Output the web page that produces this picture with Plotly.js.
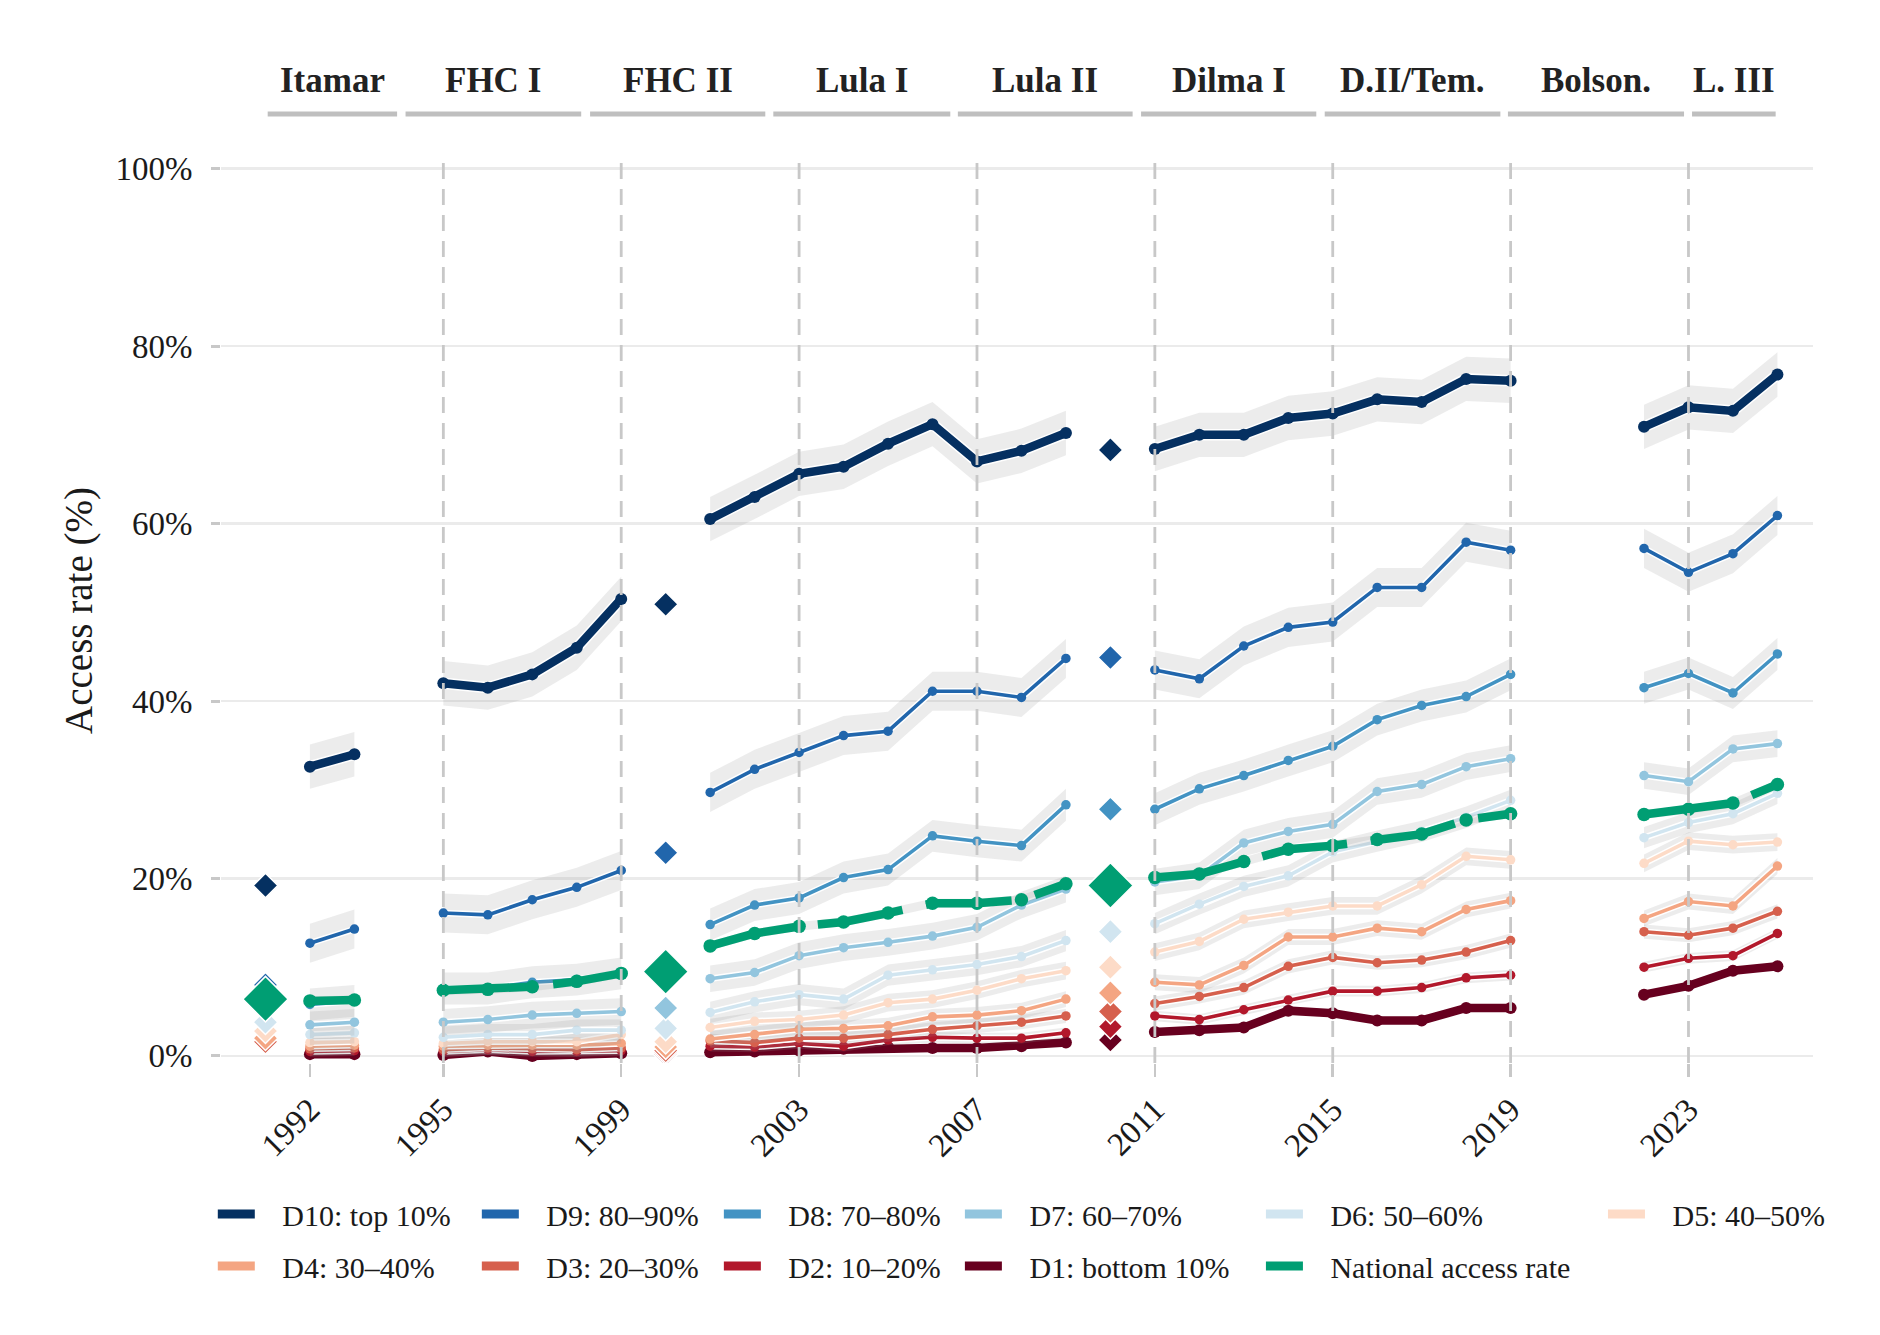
<!DOCTYPE html>
<html>
<head>
<meta charset="utf-8">
<script src="https://cdn.plot.ly/plotly-3.0.1.min.js"></script>
<style>
  html, body { margin: 0; padding: 0; background: #fff; }
  #plot { width: 1880px; height: 1335px; }
</style>
</head>
<body>
<div id="plot"></div>
<script>
// survey years (gaps = census years / no survey)
var years = [1992, 1993, 1995, 1996, 1997, 1998, 1999,
             2001, 2002, 2003, 2004, 2005, 2006, 2007, 2008, 2009,
             2011, 2012, 2013, 2014, 2015, 2016, 2017, 2018, 2019,
             2022, 2023, 2024, 2025];

var d1  = [0.2, 0.2, 0.1, 0.5, 0.0, 0.2, 0.3, 0.4, 0.5, 0.6, 0.8, 1.0, 0.9, 0.9, 1.1, 1.5, 2.7, 2.9, 3.2, 5.1, 4.8, 4.0, 4.0, 5.4, 5.4, 6.9, 7.9, 9.6, 10.1];
var d2  = [0.5, 0.6, 0.5, 0.7, 0.5, 0.5, 0.6, 1.1, 1.0, 1.4, 1.1, 1.8, 2.1, 2.0, 2.0, 2.6, 4.5, 4.1, 5.2, 6.3, 7.3, 7.3, 7.7, 8.8, 9.1, 10.0, 11.0, 11.3, 13.8];
var d3  = [0.8, 0.9, 0.7, 0.9, 0.8, 0.7, 0.9, 1.7, 1.5, 2.0, 2.0, 2.4, 3.0, 3.4, 3.8, 4.5, 5.9, 6.7, 7.7, 10.1, 11.1, 10.5, 10.8, 11.7, 13.0, 14.0, 13.6, 14.4, 16.3];
var d4  = [1.1, 1.2, 1.1, 1.2, 1.2, 1.2, 1.4, 1.9, 2.4, 3.0, 3.1, 3.4, 4.4, 4.6, 5.1, 6.4, 8.3, 8.0, 10.2, 13.4, 13.4, 14.4, 14.0, 16.5, 17.5, 15.5, 17.4, 16.9, 21.4];
var d5  = [1.5, 1.6, 1.4, 1.6, 1.6, 1.6, 2.4, 3.2, 3.9, 4.1, 4.6, 6.0, 6.4, 7.4, 8.7, 9.6, 11.7, 12.9, 15.4, 16.2, 16.9, 16.9, 19.3, 22.5, 22.1, 21.7, 24.2, 23.8, 24.1];
var d6  = [2.4, 2.6, 2.1, 2.4, 2.4, 2.9, 2.9, 4.9, 6.1, 6.9, 6.4, 9.1, 9.7, 10.3, 11.2, 13.0, 14.9, 17.1, 19.1, 20.3, 23.0, 24.2, 25.3, 26.9, 28.8, 24.6, 26.3, 27.3, 29.6];
var d7  = [3.5, 3.8, 3.8, 4.1, 4.6, 4.8, 5.0, 8.7, 9.4, 11.3, 12.2, 12.8, 13.5, 14.5, 17.0, 18.8, 19.6, 20.3, 24.0, 25.3, 26.1, 29.8, 30.6, 32.6, 33.5, 31.6, 30.9, 34.6, 35.2];
var d8  = [5.8, 6.2, 7.6, 7.6, 8.3, 8.6, 9.3, 14.8, 17.0, 17.8, 20.1, 21.0, 24.8, 24.2, 23.7, 28.3, 27.8, 30.1, 31.6, 33.3, 34.9, 37.9, 39.5, 40.5, 43.0, 41.5, 43.1, 40.9, 45.3];
var d9  = [12.7, 14.3, 16.1, 15.9, 17.6, 19.0, 20.9, 29.7, 32.3, 34.2, 36.1, 36.6, 41.1, 41.1, 40.4, 44.8, 43.5, 42.5, 46.2, 48.3, 48.9, 52.8, 52.8, 57.9, 57.0, 57.2, 54.5, 56.6, 60.9];
var d10 = [32.6, 34.0, 42.0, 41.5, 43.0, 46.0, 51.5, 60.5, 63.0, 65.6, 66.4, 69.0, 71.2, 67.0, 68.2, 70.2, 68.4, 70.0, 70.0, 71.9, 72.4, 74.0, 73.7, 76.3, 76.1, 70.9, 73.1, 72.7, 76.8];
var national = [6.2, 6.3, 7.4, 7.5, 7.8, 8.4, 9.3, 12.4, 13.8, 14.6, 15.1, 16.1, 17.2, 17.2, 17.6, 19.4, 20.1, 20.5, 21.9, 23.3, 23.7, 24.4, 25.0, 26.6, 27.3, 27.2, 27.8, 28.5, 30.6];

// census years
var censusYears = [1991, 2000, 2010];
var censusD1  = [1.6, 0.2, 1.8];
var censusD2  = [1.6, 0.4, 3.3];
var censusD3  = [1.6, 0.6, 5.0];
var censusD4  = [2.0, 1.0, 7.1];
var censusD5  = [2.8, 1.6, 10.0];
var censusD6  = [3.8, 3.1, 14.0];
var censusD7  = [5.5, 5.4, 19.0];
var censusD8  = [6.5, 9.0, 27.8];
var censusD9  = [8.0, 22.9, 44.9];
var censusD10 = [19.2, 50.9, 68.3];
var censusNational = [6.4, 9.5, 19.2];

// half-width of the confidence band, percentage points
var ciHalf = [0.5, 0.6, 0.8, 0.9, 1.0, 1.2, 1.5, 1.8, 2.2, 2.5];
var ciHalfNational = 0.5;

var names = ["D1: bottom 10%", "D2: 10\u201320%", "D3: 20\u201330%", "D4: 30\u201340%", "D5: 40\u201350%",
             "D6: 50\u201360%", "D7: 60\u201370%", "D8: 70\u201380%", "D9: 80\u201390%", "D10: top 10%"];
var nationalName = "National access rate";

var terms = ["Itamar", "FHC I", "FHC II", "Lula I", "Lula II", "Dilma I", "D.II/Tem.", "Bolson.", "L. III"];
var termFrom = [1991.05, 1994.15, 1998.3, 2002.42, 2006.57, 2010.69, 2014.82, 2018.94, 2023.08];
var termTo   = [1993.96, 1998.1, 2002.24, 2006.4, 2010.5, 2014.63, 2018.77, 2022.9, 2024.96];
var termLines = [1995, 1999, 2003, 2007, 2011, 2015, 2019, 2023];
var tickYears = [1992, 1995, 1999, 2003, 2007, 2011, 2015, 2019, 2023];
var pctTicks = [0, 20, 40, 60, 80, 100];

var colors = ["#67001f", "#b2182b", "#d6604d", "#f4a582", "#fddbc7",
              "#d1e5f0", "#92c5de", "#4393c3", "#2166ac", "#053061"];
var nationalColor = "#009e73";

var deciles = [d1, d2, d3, d4, d5, d6, d7, d8, d9, d10];
var census = [censusD1, censusD2, censusD3, censusD4, censusD5, censusD6, censusD7, censusD8, censusD9, censusD10];

function segments(xs, ys) {
    var out = [], cur = null;
    xs.forEach(function (x, i) {
        if (cur === null || x - xs[i - 1] > 1) {
            cur = {x: [], y: []};
            out.push(cur);
        }
        cur.x.push(x);
        cur.y.push(ys[i]);
    });
    return out;
}

function withBreaks(xs, ys) {
    var x = [], y = [];
    segments(xs, ys).forEach(function (s, k) {
        if (k > 0) { x.push(null); y.push(null); }
        x = x.concat(s.x);
        y = y.concat(s.y);
    });
    return {x: x, y: y};
}

function band(xs, ys, half) {
    var x = [], y = [];
    segments(xs, ys).forEach(function (s, k) {
        if (k > 0) { x.push(null); y.push(null); }
        x = x.concat(s.x, s.x.slice().reverse());
        y = y.concat(s.y.map(v => v + half), s.y.slice().reverse().map(v => v - half));
    });
    return {x: x, y: y};
}

var data = [];

function addSeries(vals, half, color, lw, ms, dash, halo) {
    var b = band(years, vals, half);
    data.push({x: b.x, y: b.y, type: "scatter", mode: "lines", fill: "toself",
               fillcolor: "rgba(150,150,150,0.18)", line: {width: 0},
               hoverinfo: "skip", showlegend: false});
    var l = withBreaks(years, vals);
    if (halo) {
        data.push({x: l.x, y: l.y, type: "scatter", mode: "lines",
                   line: {color: "#ffffff", width: lw + 3},
                   hoverinfo: "skip", showlegend: false});
    }
    data.push({x: l.x, y: l.y, type: "scatter", mode: "lines+markers",
               line: {color: color, width: lw, dash: dash},
               marker: {color: color, size: ms},
               showlegend: false});
}

deciles.forEach(function (vals, i) {
    var thick = (i === 0 || i === 9);
    addSeries(vals, ciHalf[i], colors[i], thick ? 8.5 : 3.6, thick ? 12 : 9.5, "solid", true);
});
addSeries(national, ciHalfNational, nationalColor, 8.5, 13.5, "86px,24px", false);

// census diamonds
census.forEach(function (vals, i) {
    data.push({x: censusYears, y: vals, type: "scatter", mode: "markers",
               marker: {symbol: "diamond", size: 19, color: colors[i],
                        line: {color: "#ffffff", width: 1.5}},
               showlegend: false});
});
data.push({x: censusYears, y: censusNational, type: "scatter", mode: "markers",
           marker: {symbol: "diamond", size: 35, color: nationalColor,
                    line: {color: "#ffffff", width: 1.5}},
           showlegend: false});

// legend grid: row 1 D10..D5, row 2 D4..D1 + national
var legendOrder = [9, 8, 7, 6, 5, 4, 3, 2, 1, 0, -1];
var colLeft = [218, 482, 724, 965, 1266, 1608];
var rowY = [1214, 1266];
var plotL = 221.2, plotW = 1591.8, plotB = 1063, plotH = 905;
var pad = "\u00a0\u00a0\u00a0";

var layout = {
    width: 1880, height: 1335,
    margin: {l: 221, r: 67, t: 158, b: 272},
    paper_bgcolor: "#ffffff", plot_bgcolor: "#ffffff",
    font: {family: "Liberation Serif, Times New Roman, serif", color: "#1a1a1a", size: 30},
    xaxis: {range: [1990, 2025.8], tickvals: tickYears, ticktext: tickYears.map(String),
            tickangle: -45, ticks: "outside", ticklen: 13, tickwidth: 2.5, tickcolor: "#c8c8c8",
            showgrid: false, zeroline: false, showline: false, automargin: false,
            tickfont: {size: 33, color: "#1a1a1a"}},
    yaxis: {range: [-0.8, 101.2], tickvals: pctTicks, ticktext: pctTicks.map(v => v + "%"),
            ticks: "outside", ticklen: 9, tickwidth: 3, tickcolor: "#c8c8c8", ticklabelstandoff: 12,
            showgrid: true, gridcolor: "#ebebeb", gridwidth: 2.5,
            zeroline: false, showline: false, automargin: false,
            tickfont: {size: 33, color: "#1a1a1a"},
            title: {text: "Access rate (%)", font: {size: 39, color: "#1a1a1a"}, standoff: 10}},
    shapes: [],
    annotations: [],
    hovermode: false
};

termLines.forEach(function (yr) {
    layout.shapes.push({type: "line", xref: "x", yref: "paper", x0: yr, x1: yr, y0: 0, y1: 1,
                        layer: "above", line: {color: "#c8c8c8", width: 2.8, dash: "16px,10px"}});
});

terms.forEach(function (t, i) {
    layout.shapes.push({type: "line", xref: "x", yref: "paper", x0: termFrom[i], x1: termTo[i],
                        y0: 1.0486, y1: 1.0486, line: {color: "#bfbfbf", width: 5}});
    layout.annotations.push({text: "<b>" + t + "</b>", xref: "x", yref: "paper",
                             x: (termFrom[i] + termTo[i]) / 2, y: 1.086,
                             xanchor: "center", yanchor: "middle", showarrow: false,
                             font: {size: 35, color: "#222222"}});
});

legendOrder.forEach(function (idx, k) {
    var key = k === 0 ? "legend" : "legend" + (k + 1);
    var col = k < 6 ? k : k - 6;
    var row = k < 6 ? 0 : 1;
    data.push({x: [null], y: [null], type: "scatter", mode: "lines",
               name: pad + (idx < 0 ? nationalName : names[idx]),
               line: {color: idx < 0 ? nationalColor : colors[idx], width: 9},
               legend: key, showlegend: true});
    layout[key] = {x: (colLeft[col] - 5 - plotL) / plotW, y: (plotB - rowY[row]) / plotH,
                   xanchor: "left", yanchor: "middle", orientation: "v", itemwidth: 37,
                   bgcolor: "rgba(0,0,0,0)", borderwidth: 0,
                   font: {size: 30, color: "#1a1a1a"}, itemclick: false};
});

Plotly.newPlot("plot", data, layout, {displayModeBar: false, staticPlot: true});
</script>
</body>
</html>
